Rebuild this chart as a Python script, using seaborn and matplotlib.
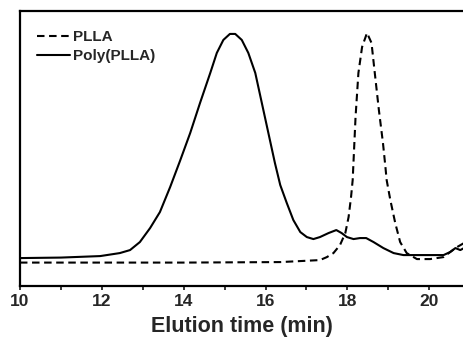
import numpy as np
import pandas as pd
import matplotlib
matplotlib.use("Agg")
import matplotlib.pyplot as plt
import seaborn as sns

# GPC traces (elution time in min, detector signal in a.u.)
poly_time = [10.0, 11.0, 11.96, 12.44, 12.69, 12.93, 13.18, 13.42, 13.67, 13.91,
             14.16, 14.40, 14.65, 14.81, 14.97, 15.13, 15.26, 15.42, 15.58, 15.75,
             15.91, 16.07, 16.23, 16.36, 16.52, 16.68, 16.85, 17.01, 17.17, 17.33,
             17.54, 17.73, 17.86, 17.99, 18.15, 18.31, 18.46, 18.64, 18.88, 19.13,
             19.37, 19.78, 20.35, 20.51, 20.64, 20.76, 20.85]
poly_signal = [28, 28.5, 30, 33, 36, 44, 58, 74, 99, 125,
               153, 183, 213, 233, 246, 252, 252, 246, 233, 213,
               183, 153, 123, 101, 83, 66, 54, 49, 47, 49,
               53, 56, 53, 49, 47, 48, 48, 44, 38, 33,
               31, 31, 31, 34, 38, 36, 38]

plla_time = [10.0, 12.0, 14.0, 16.36, 17.33, 17.5, 17.66, 17.82, 17.95, 18.03,
             18.09, 18.13, 18.2, 18.27, 18.36, 18.48, 18.59, 18.67, 18.77, 18.87,
             18.93, 18.96, 19.05, 19.17, 19.29, 19.45, 19.70, 20.02, 20.35, 20.51,
             20.68, 20.85]
plla_signal = [23.5, 23.5, 23.5, 24, 26, 29, 33, 41, 53, 69,
               89, 106, 169, 213, 239, 253, 243, 213, 176, 143,
               119, 106, 86, 63, 44, 33, 27, 27, 29, 34,
               39, 43]

poly_df = pd.DataFrame({"time": poly_time, "signal": poly_signal})
plla_df = pd.DataFrame({"time": plla_time, "signal": plla_signal})

sns.set_style("ticks")
plt.rcParams["font.family"] = ["Liberation Sans", "DejaVu Sans"]

fig = plt.figure(figsize=(4.64, 3.41), dpi=100)
ax = fig.add_axes([0.043, 0.161, 0.957, 0.807])

sns.lineplot(data=plla_df, x="time", y="signal", ax=ax, color="black",
             linestyle=(0, (3.6, 2.2)), linewidth=1.5, label="PLLA")
sns.lineplot(data=poly_df, x="time", y="signal", ax=ax, color="black",
             linewidth=1.5, label="Poly(PLLA)")

ax.set_xlim(10, 20.85)
ax.set_ylim(0, 275)
ax.set_xticks([10, 12, 14, 16, 18, 20])
ax.set_xticks([11, 13, 15, 17, 19], minor=True)
ax.set_yticks([])
ax.tick_params(axis="x", which="both", direction="out", length=3, width=1.3,
               labelsize=12.5, pad=3)
for lab in ax.get_xticklabels():
    lab.set_fontweight("bold")
ax.set_xlabel("Elution time (min)", fontsize=15.5, fontweight="bold", labelpad=5)
ax.set_ylabel("")
for side in ["left", "top", "bottom"]:
    ax.spines[side].set_linewidth(1.6)
    ax.spines[side].set_color("black")
ax.spines["right"].set_visible(False)

leg = ax.legend(loc="upper left", frameon=False, fontsize=11, handlelength=2.2,
                handletextpad=0.2, labelspacing=0.35, borderaxespad=0.4,
                bbox_to_anchor=(0.01, 0.975))
for t in leg.get_texts():
    t.set_fontweight("bold")

fig.savefig("out.png", dpi=100)
